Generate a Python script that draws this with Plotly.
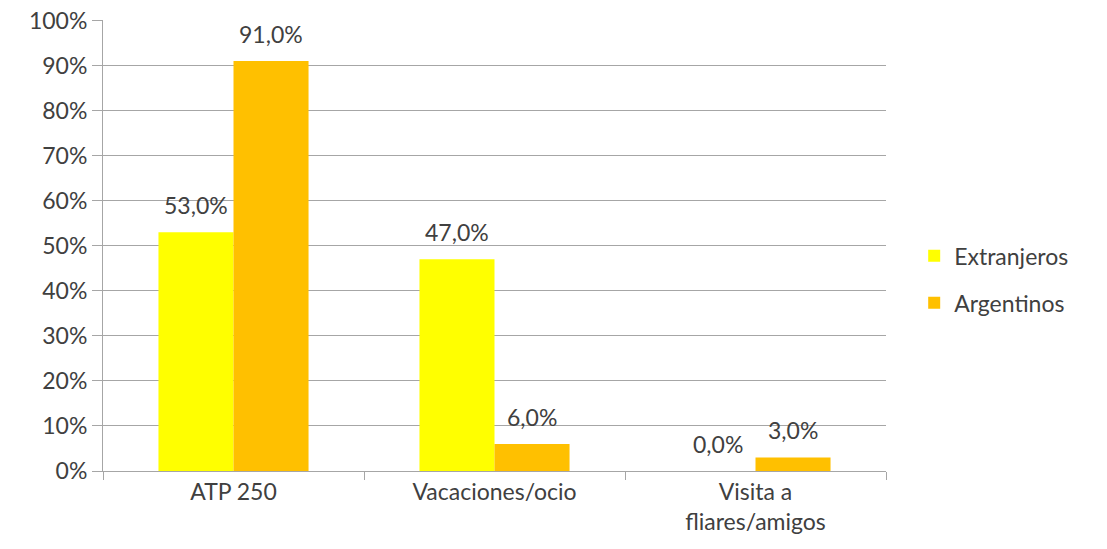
import plotly.graph_objects as go

categories = ["ATP 250", "Vacaciones/ocio", "Visita a<br>fliares/amigos"]
extranjeros = [0.53, 0.47, 0.0]
argentinos = [0.91, 0.06, 0.03]
y_ticks = [0, 0.1, 0.2, 0.3, 0.4, 0.5, 0.6, 0.7, 0.8, 0.9, 1.0]

FONT = "Lato"
TXT = "#404040"
font = dict(family=FONT, size=23, color=TXT)

BARGAP = 0.425
PLOT_W = 1107 - 103 - 221
half_bar = PLOT_W / len(categories) * (1 - BARGAP) / 4

fig = go.Figure()
fig.add_trace(go.Bar(x=categories, y=extranjeros, name="Extranjeros",
                     legendgroup="a",
                     marker=dict(color="#FFFF00", line=dict(width=0))))
fig.add_trace(go.Bar(x=categories, y=argentinos, name="Argentinos",
                     legendgroup="b",
                     marker=dict(color="#FFC000", line=dict(width=0))))

for series, sign in ((extranjeros, -1), (argentinos, 1)):
    for cat, val in zip(categories, series):
        fig.add_annotation(x=cat, y=val, xref="x", yref="y",
                           text=f"{val * 100:.1f}%".replace(".", ","),
                           showarrow=False, yanchor="bottom", xanchor="center",
                           xshift=sign * half_bar, yshift=11, font=font)

fig.update_layout(
    width=1107, height=549,
    margin=dict(l=103, r=221, t=20, b=78, autoexpand=False),
    paper_bgcolor="white", plot_bgcolor="white",
    separators=",.",
    font=font,
    barmode="group", bargap=BARGAP, bargroupgap=0,
    showlegend=True,
    legend=dict(x=1.036, y=0.425, xanchor="left", yanchor="middle",
                font=font, itemsizing="constant", traceorder="grouped",
                tracegroupgap=14, bgcolor="rgba(0,0,0,0)"),
)
fig.update_yaxes(range=[0, 1.001], tickvals=y_ticks, tickformat=".0%",
                 showgrid=True, gridcolor="#A6A6A6", gridwidth=1,
                 showline=True, linecolor="#A6A6A6", linewidth=1,
                 ticks="outside", ticklen=10, tickcolor="#A6A6A6",
                 tickfont=font, zeroline=False, automargin=False,
                 ticklabeloverflow="allow")
fig.update_xaxes(showgrid=False, showline=True, linecolor="#A6A6A6", linewidth=1,
                 ticks="outside", tickson="boundaries", ticklen=8, tickcolor="#A6A6A6",
                 tickfont=font, automargin=False)

fig.write_html("out.html", config={"displayModeBar": False},
               post_script="document.body.style.margin='0';document.body.style.padding='0';")
